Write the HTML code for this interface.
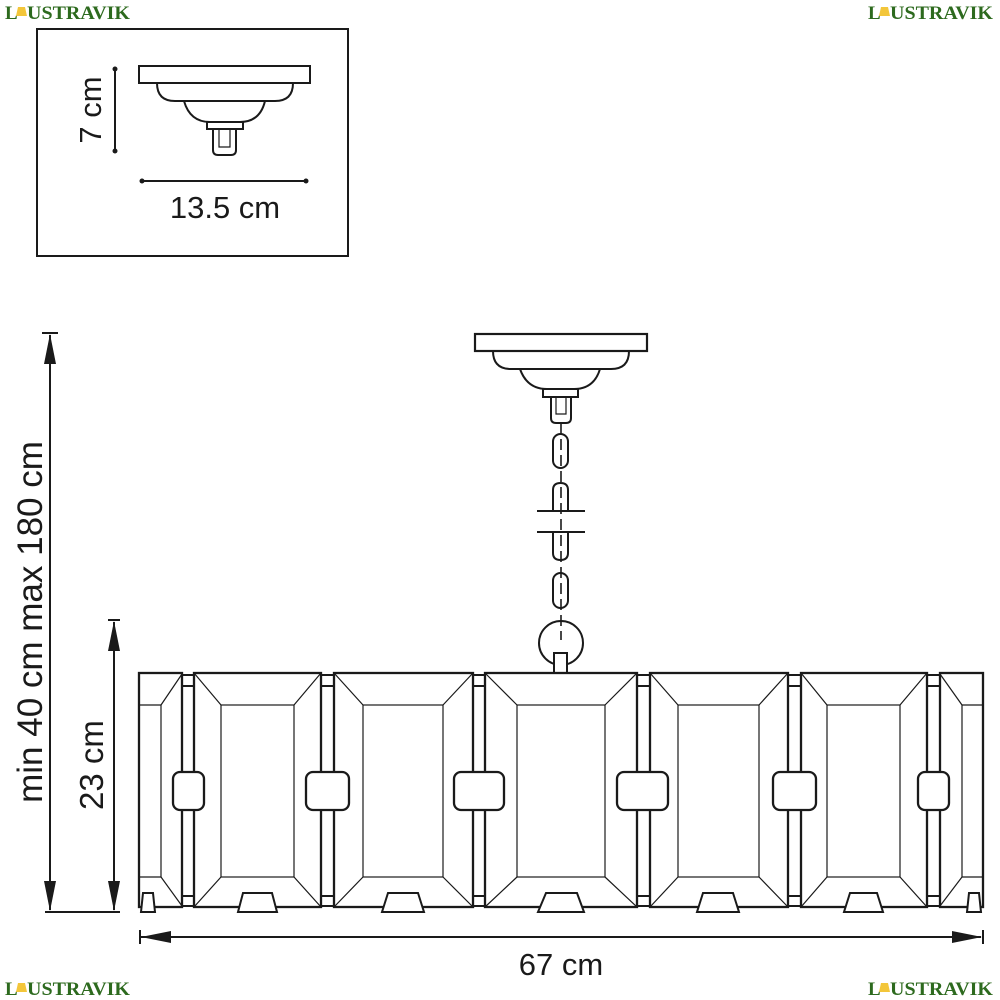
<!DOCTYPE html>
<html><head><meta charset="utf-8"><style>
html,body{margin:0;padding:0;background:#fff;}
svg{display:block;}
.t{font-family:"Liberation Sans",sans-serif;fill:#1a1a1a;}
.logo{font-family:"Liberation Serif",serif;font-weight:bold;fill:#2d6a1e;font-size:19px;}
</style></head><body>
<svg width="1000" height="1000" viewBox="0 0 1000 1000" xmlns="http://www.w3.org/2000/svg">
<defs>
<g id="lg">
  <text class="logo" x="0" y="17">L</text>
  <path d="M13 5 L20 5 L22 14 L11 14 Z" fill="#f3c63a"/>
  <text class="logo" x="22" y="17" textLength="103" lengthAdjust="spacingAndGlyphs">USTRAVIK</text>
</g>
</defs>
<use href="#lg" x="5" y="2"/>
<use href="#lg" x="868" y="2"/>
<use href="#lg" x="5" y="978"/>
<use href="#lg" x="868" y="978"/>

<g fill="none" stroke="#1a1a1a" stroke-width="2">
<rect x="37" y="29" width="311" height="227" stroke-width="2"/>
<rect x="139" y="66" width="171" height="17"/>
<path d="M157 83 Q157 101 175 101 L275 101 Q293 101 293 83"/>
<path d="M184 101 Q190 122 210 122 L240 122 Q260 122 265 101"/>
<rect x="207" y="122" width="36" height="7"/>
<path d="M213 129 L213 150 Q213 155 218 155 L231 155 Q236 155 236 150 L236 129"/>
<path d="M219 129 L219 147 L230 147 L230 129" stroke-width="1.2"/>
<line x1="115" y1="69" x2="115" y2="151"/>
<line x1="142" y1="181" x2="306" y2="181"/>
</g>
<g fill="#1a1a1a"><circle cx="115" cy="69" r="2.5"/><circle cx="115" cy="151" r="2.5"/><circle cx="142" cy="181" r="2.5"/><circle cx="306" cy="181" r="2.5"/></g>
<text class="t" x="225" y="218" font-size="31" text-anchor="middle">13.5 cm</text>
<text class="t" transform="translate(101,110) rotate(-90)" font-size="31" text-anchor="middle">7 cm</text>

<g fill="none" stroke="#1a1a1a" stroke-width="2">
<rect x="475" y="334" width="172" height="17" stroke-width="2.2"/>
<path d="M493 351 Q493 369 511 369 L611 369 Q629 369 629 351"/>
<path d="M520 369 Q527 389 547 389 L574 389 Q594 389 600 369"/>
<rect x="543" y="389" width="35" height="8"/>
<path d="M551 397 L551 418 Q551 423 556 423 L566 423 Q571 423 571 418 L571 397"/>
<path d="M556 397 L556 414 L566 414 L566 397" stroke-width="1.2"/>
<rect x="553" y="434" width="15" height="34" rx="7.5"/>
<path d="M553 511 L553 490 Q553 483 560.5 483 Q568 483 568 490 L568 511"/>
<line x1="537" y1="511" x2="585" y2="511"/>
<line x1="537" y1="532" x2="585" y2="532"/>
<path d="M553 532 L553 553 Q553 560 560.5 560 Q568 560 568 553 L568 532"/>
<rect x="553" y="573" width="15" height="35" rx="7.5"/>
<circle cx="561" cy="643" r="22"/>
<line x1="561" y1="423" x2="561" y2="640" stroke-dasharray="11,5" stroke-width="1.6"/>
<rect x="554" y="653" width="13" height="20" fill="#fff"/>
</g>

<g fill="none" stroke="#1a1a1a" stroke-width="2.3">
<g stroke-width="2">
<rect x="182" y="675" width="12" height="231"/><line x1="182" y1="686" x2="194" y2="686"/><line x1="182" y1="896" x2="194" y2="896"/>
<rect x="321" y="675" width="13" height="231"/><line x1="321" y1="686" x2="334" y2="686"/><line x1="321" y1="896" x2="334" y2="896"/>
<rect x="473" y="675" width="12" height="231"/><line x1="473" y1="686" x2="485" y2="686"/><line x1="473" y1="896" x2="485" y2="896"/>
<rect x="637" y="675" width="13" height="231"/><line x1="637" y1="686" x2="650" y2="686"/><line x1="637" y1="896" x2="650" y2="896"/>
<rect x="788" y="675" width="13" height="231"/><line x1="788" y1="686" x2="801" y2="686"/><line x1="788" y1="896" x2="801" y2="896"/>
<rect x="927" y="675" width="13" height="231"/><line x1="927" y1="686" x2="940" y2="686"/><line x1="927" y1="896" x2="940" y2="896"/>
</g>
<rect x="139" y="673" width="43" height="234"/>
<g stroke-width="1.2"><line x1="161" y1="705" x2="161" y2="877"/><line x1="139" y1="705" x2="161" y2="705"/><line x1="139" y1="877" x2="161" y2="877"/><line x1="161" y1="705" x2="182" y2="674"/><line x1="161" y1="877" x2="182" y2="906"/></g>
<rect x="940" y="673" width="43" height="234"/>
<g stroke-width="1.2"><line x1="962" y1="705" x2="962" y2="877"/><line x1="962" y1="705" x2="983" y2="705"/><line x1="962" y1="877" x2="983" y2="877"/><line x1="962" y1="705" x2="940" y2="674"/><line x1="962" y1="877" x2="940" y2="906"/></g>
<rect x="194" y="673" width="127" height="234"/>
<g stroke-width="1.2"><rect x="221" y="705" width="73" height="172"/><path d="M194 673 L221 705 M321 673 L294 705 M194 907 L221 877 M321 907 L294 877"/></g>
<rect x="334" y="673" width="139" height="234"/>
<g stroke-width="1.2"><rect x="363" y="705" width="80" height="172"/><path d="M334 673 L363 705 M473 673 L443 705 M334 907 L363 877 M473 907 L443 877"/></g>
<rect x="485" y="673" width="152" height="234"/>
<g stroke-width="1.2"><rect x="517" y="705" width="88" height="172"/><path d="M485 673 L517 705 M637 673 L605 705 M485 907 L517 877 M637 907 L605 877"/></g>
<rect x="650" y="673" width="138" height="234"/>
<g stroke-width="1.2"><rect x="678" y="705" width="81" height="172"/><path d="M650 673 L678 705 M788 673 L759 705 M650 907 L678 877 M788 907 L759 877"/></g>
<rect x="801" y="673" width="126" height="234"/>
<g stroke-width="1.2"><rect x="827" y="705" width="73" height="172"/><path d="M801 673 L827 705 M927 673 L900 705 M801 907 L827 877 M927 907 L900 877"/></g>
<g fill="#fff">
<rect x="173" y="772" width="31" height="38" rx="7"/>
<rect x="306" y="772" width="43" height="38" rx="7"/>
<rect x="454" y="772" width="50" height="38" rx="7"/>
<rect x="617" y="772" width="51" height="38" rx="7"/>
<rect x="773" y="772" width="43" height="38" rx="7"/>
<rect x="918" y="772" width="31" height="38" rx="7"/>
</g>
<g fill="#fff" stroke-width="2">
<path d="M141 912 L155 912 L153 893 L143 893 Z"/>
<path d="M238 912 L277 912 L272 893 L243 893 Z"/>
<path d="M382 912 L424 912 L418 893 L388 893 Z"/>
<path d="M538 912 L584 912 L577 893 L546 893 Z"/>
<path d="M697 912 L739 912 L733 893 L703 893 Z"/>
<path d="M844 912 L883 912 L877 893 L850 893 Z"/>
<path d="M967 912 L981 912 L979 893 L969 893 Z"/>
</g>
</g>

<g stroke="#1a1a1a" stroke-width="2" fill="none">
<line x1="50" y1="335" x2="50" y2="910"/>
<line x1="42" y1="333" x2="58" y2="333"/>
<line x1="45" y1="912" x2="120" y2="912"/>
<line x1="114" y1="622" x2="114" y2="910"/>
<line x1="108" y1="620" x2="120" y2="620"/>
<line x1="141" y1="937" x2="981" y2="937"/>
<line x1="140" y1="930" x2="140" y2="944"/>
<line x1="983" y1="930" x2="983" y2="944"/>
</g>
<g fill="#1a1a1a">
<path d="M50 334 L44 364 L56 364 Z"/>
<path d="M50 911 L44 881 L56 881 Z"/>
<path d="M114 621 L108 651 L120 651 Z"/>
<path d="M114 911 L108 881 L120 881 Z"/>
<path d="M141 937 L171 931 L171 943 Z"/>
<path d="M982 937 L952 931 L952 943 Z"/>
</g>
<text class="t" transform="translate(42,622) rotate(-90)" font-size="35" text-anchor="middle">min 40 cm max 180 cm</text>
<text class="t" transform="translate(103,765) rotate(-90)" font-size="33" text-anchor="middle">23 cm</text>
<text class="t" x="561" y="975" font-size="31" text-anchor="middle">67 cm</text>
</svg>
</body></html>
